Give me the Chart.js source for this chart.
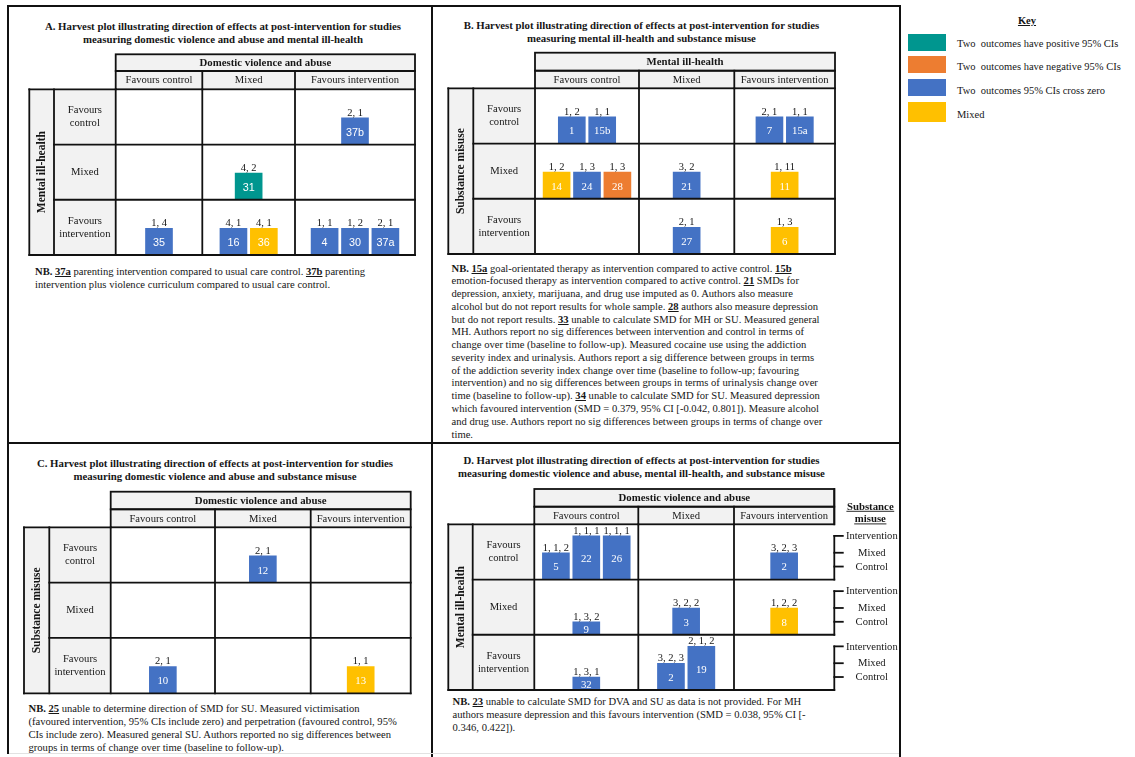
<!DOCTYPE html>
<html>
<head>
<meta charset="utf-8">
<title>Harvest plots</title>
<script src="https://cdn.jsdelivr.net/npm/chart.js@4.4.1/dist/chart.umd.min.js"></script>
<style>
  html, body { margin: 0; padding: 0; background: #fff; }
  #page { position: relative; width: 1135px; height: 757px; overflow: hidden;
          font-family: "Liberation Serif", "Times New Roman", serif; color: #161616; }
  .ln { position: absolute; background: #111; }
  .title { position: absolute; width: 520px; font-weight: bold; font-size: 10.8px;
           text-align: center; white-space: nowrap; line-height: 13px; }
  .note { position: absolute; font-size: 10.6px; white-space: nowrap; }
  .note b { font-weight: bold; }
  canvas { position: absolute; }
  .key-head { position: absolute; left: 996px; top: 15px; width: 62px; text-align: center;
              font-weight: bold; font-size: 10.5px; text-decoration: underline; }
  .sw { position: absolute; left: 908px; width: 38px; }
  .kl { position: absolute; left: 957px; font-size: 10.5px; white-space: pre; line-height: 12px; }
</style>
</head>
<body>
<div id="page">
  <!-- frame -->
  <div class="ln" style="left:7px;top:5px;width:894px;height:2px;"></div>
  <div class="ln" style="left:7px;top:5px;width:2px;height:749px;"></div>
  <div class="ln" style="left:899px;top:5px;width:2px;height:752px;"></div>
  <div class="ln" style="left:431px;top:5px;width:2px;height:752px;"></div>
  <div class="ln" style="left:7px;top:442px;width:894px;height:2px;"></div>
  <div class="ln" style="left:9px;top:753px;width:890px;height:1px;background:#e2e2e2;"></div>

  <!-- titles -->
  <div class="title" style="left:-37px;top:19.5px;">A. Harvest plot illustrating direction of effects at post-intervention for studies<br>measuring domestic violence and abuse and mental ill-health</div>
  <div class="title" style="left:381.5px;top:18.5px;">B. Harvest plot illustrating direction of effects at post-intervention for studies<br>measuring mental ill-health and substance misuse</div>
  <div class="title" style="left:-45px;top:457px;">C. Harvest plot illustrating direction of effects at post-intervention for studies<br>measuring domestic violence and abuse and substance misuse</div>
  <div class="title" style="left:381.5px;top:453.5px;">D. Harvest plot illustrating direction of effects at post-intervention for studies<br>measuring domestic violence and abuse, mental ill-health, and substance misuse</div>

  <!-- notes -->
  <div class="note" style="left:35px;top:265px;line-height:13.3px;"><b>NB. <u>37a</u></b> parenting intervention compared to usual care control. <b><u>37b</u></b> parenting<br>intervention plus violence curriculum compared to usual care control.</div>
  <div class="note" style="left:451.5px;top:262.6px;line-height:12.77px;"><b>NB. <u>15a</u></b> goal-orientated therapy as intervention compared to active control. <b><u>15b</u></b><br>emotion-focused therapy as intervention compared to active control. <b><u>21</u></b> SMDs for<br>depression, anxiety, marijuana, and drug use imputed as 0. Authors also measure<br>alcohol but do not report results for whole sample. <b><u>28</u></b> authors also measure depression<br>but do not report results. <b><u>33</u></b> unable to calculate SMD for MH or SU. Measured general<br>MH. Authors report no sig differences between intervention and control in terms of<br>change over time (baseline to follow-up). Measured cocaine use using the addiction<br>severity index and urinalysis. Authors report a sig difference between groups in terms<br>of the addiction severity index change over time (baseline to follow-up; favouring<br>intervention) and no sig differences between groups in terms of urinalysis change over<br>time (baseline to follow-up). <b><u>34</u></b> unable to calculate SMD for SU. Measured depression<br>which favoured intervention (SMD = 0.379, 95% CI [-0.042, 0.801]). Measure alcohol<br>and drug use. Authors report no sig differences between groups in terms of change over<br>time.</div>
  <div class="note" style="left:28.5px;top:701.8px;line-height:13.1px;"><b>NB. <u>25</u></b> unable to determine direction of SMD for SU. Measured victimisation<br>(favoured intervention, 95% CIs include zero) and perpetration (favoured control, 95%<br>CIs include zero). Measured general SU. Authors reported no sig differences between<br>groups in terms of change over time (baseline to follow-up).</div>
  <div class="note" style="left:452.5px;top:696.3px;line-height:12.8px;"><b>NB. <u>23</u></b> unable to calculate SMD for DVA and SU as data is not provided. For MH<br>authors measure depression and this favours intervention (SMD = 0.038, 95% CI [-<br>0.346, 0.422]).</div>

  <canvas id="panelA"></canvas>
  <canvas id="panelB"></canvas>
  <canvas id="panelC"></canvas>
  <canvas id="panelD"></canvas>

  <div class="key-head">Key</div>
  <div id="key"></div>
</div>

<script>
// ---- Effect categories (key) ----
const effectKeys   = ['pos', 'neg', 'cross', 'mixed'];
const effectLabels = ['Two  outcomes have positive 95% CIs', 'Two  outcomes have negative 95% CIs',
                      'Two  outcomes 95% CIs cross zero', 'Mixed'];

// ---- Direction categories used on both table axes ----
const directions = ['Favours control', 'Mixed', 'Favours intervention'];
const dirCode    = { C: 0, M: 1, I: 2 };
const suLevels   = ['Intervention', 'Mixed', 'Control'];

// ---- A: domestic violence and abuse (columns) x mental ill-health (rows) ----
const aStudies = ['37b', '31', '35', '16', '36', '4', '30', '37a'];
const aMH      = ['C', 'M', 'I', 'I', 'I', 'I', 'I', 'I'];
const aDVA     = ['I', 'M', 'C', 'M', 'M', 'I', 'I', 'I'];
const aCounts  = ['2, 1', '4, 2', '1, 4', '4, 1', '4, 1', '1, 1', '1, 2', '2, 1'];
const aEffect  = ['cross', 'pos', 'cross', 'cross', 'mixed', 'cross', 'cross', 'cross'];

// ---- B: mental ill-health (columns) x substance misuse (rows) ----
const bStudies = ['1', '15b', '7', '15a', '14', '24', '28', '21', '11', '27', '6'];
const bSU      = ['C', 'C', 'C', 'C', 'M', 'M', 'M', 'M', 'M', 'I', 'I'];
const bMH      = ['C', 'C', 'I', 'I', 'C', 'C', 'C', 'M', 'I', 'M', 'I'];
const bCounts  = ['1, 2', '1, 1', '2, 1', '1, 1', '1, 2', '1, 3', '1, 3', '3, 2', '1, 11', '2, 1', '1, 3'];
const bEffect  = ['cross', 'cross', 'cross', 'cross', 'mixed', 'cross', 'neg', 'cross', 'mixed', 'cross', 'mixed'];

// ---- C: domestic violence and abuse (columns) x substance misuse (rows) ----
const cStudies = ['12', '10', '13'];
const cSU      = ['C', 'I', 'I'];
const cDVA     = ['M', 'C', 'I'];
const cCounts  = ['2, 1', '2, 1', '1, 1'];
const cEffect  = ['cross', 'cross', 'mixed'];

// ---- D: DVA (columns) x mental ill-health (rows), bar height = substance misuse ----
const dStudies = ['5', '22', '26', '2', '9', '3', '8', '32', '2', '19'];
const dMH      = ['C', 'C', 'C', 'C', 'M', 'M', 'M', 'I', 'I', 'I'];
const dDVA     = ['C', 'C', 'C', 'I', 'C', 'M', 'I', 'C', 'M', 'M'];
const dSU      = ['M', 'I', 'I', 'M', 'C', 'M', 'M', 'C', 'M', 'I'];
const dCounts  = ['1, 1, 2', '1, 1, 1', '1, 1, 1', '3, 2, 3', '1, 3, 2', '3, 2, 2', '1, 2, 2', '1, 3, 1', '3, 2, 3', '2, 1, 2'];
const dEffect  = ['cross', 'cross', 'cross', 'cross', 'cross', 'cross', 'mixed', 'cross', 'cross', 'cross'];

// ---- styling ----
const effectColors = { pos: '#00968F', neg: '#ED7D31', cross: '#4472C4', mixed: '#FFC000' };
const HEAD_FILL = '#F2F2F2';
const LINE = '#111';
const TEXT = '#161616';
const SERIF = '"Liberation Serif", "Times New Roman", serif';
const SANS = '"Liberation Sans", Arial, sans-serif';
const BAR_W = 27, BAR_PITCH = 30.4, BAR_H = 0.485;
const SU_HEIGHT = { C: 0.235, M: 0.485, I: 0.79 };

// table geometry (page pixels)
const layA = { colX: [115.7, 202.3, 295, 415],     rowY: [89.3, 255],  headY: [54.3, 71],   sideX: [29.3, 54] };
const layB = { colX: [535, 639, 734.3, 835],       rowY: [88.3, 254],  headY: [52.7, 70.7], sideX: [448.3, 473.3] };
const layC = { colX: [110.7, 215, 310.7, 410.7],   rowY: [527.3, 693.3], headY: [491.7, 509.3], sideX: [24, 49.3] };
const layD = { colX: [534.3, 638.3, 734, 834.3],   rowY: [524.3, 690], headY: [489, 506.7], sideX: [448.3, 472.7], extra: 64 };

function setFont(ctx, weight, size, family) { ctx.font = `${weight} ${size}px ${family}`; }

function makePanel(id, lay, spec) {
  const x0 = Math.floor(lay.sideX[0]) - 4;
  const y0 = Math.floor(lay.headY[0]) - 4;
  const x1 = Math.ceil(lay.colX[3]) + 4 + (lay.extra || 0);
  const y1 = Math.ceil(lay.rowY[1]) + 4;
  const cv = document.getElementById(id);
  cv.width = x1 - x0; cv.height = y1 - y0;
  cv.style.left = x0 + 'px'; cv.style.top = y0 + 'px';
  const bodyW = lay.colX[3] - lay.colX[0];

  // bars sit side by side, centred in their table cell, in data order
  const cellMembers = {};
  spec.studies.forEach((s, i) => {
    const k = spec.rowOf[i] + spec.colOf[i];
    (cellMembers[k] = cellMembers[k] || []).push(i);
  });
  const points = spec.studies.map((s, i) => {
    const r = dirCode[spec.rowOf[i]], c = dirCode[spec.colOf[i]];
    const grp = cellMembers[spec.rowOf[i] + spec.colOf[i]];
    const k = grp.indexOf(i), n = grp.length;
    const cx = (lay.colX[c] + lay.colX[c + 1]) / 2 - lay.colX[0] + (k - (n - 1) / 2) * BAR_PITCH;
    const h = spec.su ? SU_HEIGHT[spec.su[i]] : BAR_H;
    return { x: cx, y: [r + 1 - h, r + 1] };
  });

  const table = {
    id: 'harvestTable',
    beforeDatasetsDraw(chart) {
      const ctx = chart.ctx;
      const X = v => chart.scales.x.getPixelForValue(v - lay.colX[0]);
      const Y = v => chart.scales.y.getPixelForValue(v);
      const bx0 = X(lay.colX[0]), bx1 = X(lay.colX[3]), by0 = Y(0), by1 = Y(3);
      const hy0 = lay.headY[0] - y0, hy1 = lay.headY[1] - y0;
      const sx0 = lay.sideX[0] - x0, sx1 = lay.sideX[1] - x0;
      ctx.save();
      ctx.fillStyle = '#fff';
      ctx.fillRect(bx0, by0, bx1 - bx0, by1 - by0);
      ctx.fillStyle = HEAD_FILL;
      ctx.fillRect(bx0, hy0, bx1 - bx0, by0 - hy0);
      ctx.fillRect(sx0, by0, bx0 - sx0, by1 - by0);

      ctx.fillStyle = TEXT;
      ctx.textAlign = 'center'; ctx.textBaseline = 'middle';
      setFont(ctx, 'bold', 10.8, SERIF);
      ctx.fillText(spec.colTitle, (bx0 + bx1) / 2, (hy0 + hy1) / 2 + 0.5);
      setFont(ctx, 'normal', 10.6, SERIF);
      directions.forEach((d, c) => {
        ctx.fillText(d, (X(lay.colX[c]) + X(lay.colX[c + 1])) / 2, (hy1 + by0) / 2 + 0.5);
      });
      directions.forEach((d, r) => {
        const parts = d === 'Mixed' ? [d] : d.split(' ');
        const cy = (Y(r) + Y(r + 1)) / 2;
        parts.forEach((p, j) => {
          ctx.fillText(p, (sx1 + bx0) / 2, cy + (j - (parts.length - 1) / 2) * 13.2);
        });
      });
      ctx.save();
      ctx.translate((sx0 + sx1) / 2 + 0.5, (by0 + by1) / 2);
      ctx.rotate(-Math.PI / 2);
      setFont(ctx, 'bold', 11.5, SERIF);
      ctx.fillText(spec.rowTitle, 0, 0);
      ctx.restore();
      ctx.restore();
    },
    afterDatasetsDraw(chart) {
      const ctx = chart.ctx;
      const X = v => chart.scales.x.getPixelForValue(v - lay.colX[0]);
      const Y = v => chart.scales.y.getPixelForValue(v);
      const bx0 = X(lay.colX[0]), bx1 = X(lay.colX[3]), by0 = Y(0), by1 = Y(3);
      const hy0 = lay.headY[0] - y0, hy1 = lay.headY[1] - y0;
      const sx0 = lay.sideX[0] - x0, sx1 = lay.sideX[1] - x0;
      const line = (ax, ay, bx, by) => { ctx.beginPath(); ctx.moveTo(ax, ay); ctx.lineTo(bx, by); ctx.stroke(); };
      ctx.save();
      ctx.strokeStyle = LINE; ctx.lineWidth = 1.8; ctx.lineCap = 'square';
      // column header
      ctx.strokeRect(bx0, hy0, bx1 - bx0, hy1 - hy0);
      ctx.strokeRect(bx0, hy1, bx1 - bx0, by0 - hy1);
      for (let c = 1; c < 3; c++) line(X(lay.colX[c]), hy1, X(lay.colX[c]), by0);
      // row header
      line(sx0, by0, bx0, by0);
      line(sx0, by0, sx0, by1);
      line(sx1, by0, sx1, by1);
      // body grid
      for (let r = 1; r <= 3; r++) line(r === 3 ? sx0 : sx1, Y(r), bx1, Y(r));
      for (let c = 0; c < 3; c++) line(X(lay.colX[c]), by0, X(lay.colX[c]), by1);
      if (!spec.su) line(bx1, by0, bx1, by1);

      // labels on the bars
      const meta = chart.getDatasetMeta(0);
      ctx.textAlign = 'center';
      meta.data.forEach((bar, i) => {
        const p = bar.getProps(['x', 'y', 'base'], true);
        const top = Math.min(p.y, p.base), bottom = Math.max(p.y, p.base);
        ctx.fillStyle = TEXT;
        ctx.textBaseline = 'alphabetic';
        setFont(ctx, 'normal', 10.5, SERIF);
        ctx.fillText(spec.counts[i], p.x, top - 2.2);
        ctx.fillStyle = '#fff';
        ctx.textBaseline = 'middle';
        setFont(ctx, 'normal', 10.8, spec.idFont);
        ctx.fillText(spec.studies[i], p.x, (top + bottom) / 2 + 1.5);
      });

      // substance misuse bracket scale for the three-outcome plot
      if (spec.su) {
        const tx = bx1 + 37.5;
        for (let r = 0; r < 3; r++) {
          const lv = suLevels.map(l => Y(r + 1 - SU_HEIGHT[l[0]]));
          line(bx1, lv[0], bx1, Y(r + 1));
          ctx.fillStyle = TEXT;
          ctx.textBaseline = 'middle';
          setFont(ctx, 'normal', 10.6, SERIF);
          suLevels.forEach((l, j) => {
            line(bx1, lv[j], bx1 + 8.5, lv[j]);
            ctx.fillText(l, tx, lv[j] + 0.5);
          });
        }
        line(bx1, hy0, bx1, by0);
        setFont(ctx, 'bold', 10.8, SERIF);
        ctx.textBaseline = 'alphabetic';
        ['Substance', 'misuse'].forEach((w, j) => {
          const yy = 509.5 - y0 + j * 12.6;
          ctx.fillText(w, tx - 1.5, yy);
          const wd = ctx.measureText(w).width;
          ctx.lineWidth = 0.9;
          line(tx - 1.5 - wd / 2, yy + 1.8, tx - 1.5 + wd / 2, yy + 1.8);
          ctx.lineWidth = 1.8;
        });
      }
      ctx.restore();
    }
  };

  return new Chart(cv, {
    type: 'bar',
    data: {
      datasets: [{
        data: points,
        backgroundColor: spec.effects.map(e => effectColors[e]),
        borderWidth: 0,
        barThickness: BAR_W
      }]
    },
    options: {
      responsive: false,
      animation: false,
      events: [],
      layout: { padding: {
        left: lay.colX[0] - x0, top: lay.rowY[0] - y0,
        right: x1 - lay.colX[3], bottom: y1 - lay.rowY[1] } },
      plugins: { legend: { display: false }, tooltip: { enabled: false } },
      scales: {
        x: { type: 'linear', min: 0, max: bodyW, offset: false, display: false },
        y: { type: 'linear', min: 0, max: 3, reverse: true, display: false }
      }
    },
    plugins: [table]
  });
}

makePanel('panelA', layA, { studies: aStudies, rowOf: aMH, colOf: aDVA, counts: aCounts, effects: aEffect,
  colTitle: 'Domestic violence and abuse', rowTitle: 'Mental ill-health', idFont: SANS });
makePanel('panelB', layB, { studies: bStudies, rowOf: bSU, colOf: bMH, counts: bCounts, effects: bEffect,
  colTitle: 'Mental ill-health', rowTitle: 'Substance misuse', idFont: SERIF });
makePanel('panelC', layC, { studies: cStudies, rowOf: cSU, colOf: cDVA, counts: cCounts, effects: cEffect,
  colTitle: 'Domestic violence and abuse', rowTitle: 'Substance misuse', idFont: SERIF });
makePanel('panelD', layD, { studies: dStudies, rowOf: dMH, colOf: dDVA, su: dSU, counts: dCounts, effects: dEffect,
  colTitle: 'Domestic violence and abuse', rowTitle: 'Mental ill-health', idFont: SERIF });

// ---- key ----
const keyBox = document.getElementById('key');
const swTop = [34, 56, 79, 102], swH = [17, 17, 17, 20], klMid = [44, 67.3, 90.7, 115];
effectKeys.forEach((k, i) => {
  const sw = document.createElement('div');
  sw.className = 'sw';
  sw.style.top = swTop[i] + 'px'; sw.style.height = swH[i] + 'px';
  sw.style.background = effectColors[k];
  keyBox.appendChild(sw);
  const lb = document.createElement('div');
  lb.className = 'kl';
  lb.style.top = (klMid[i] - 6) + 'px';
  lb.textContent = effectLabels[i];
  keyBox.appendChild(lb);
});
</script>
</body>
</html>
